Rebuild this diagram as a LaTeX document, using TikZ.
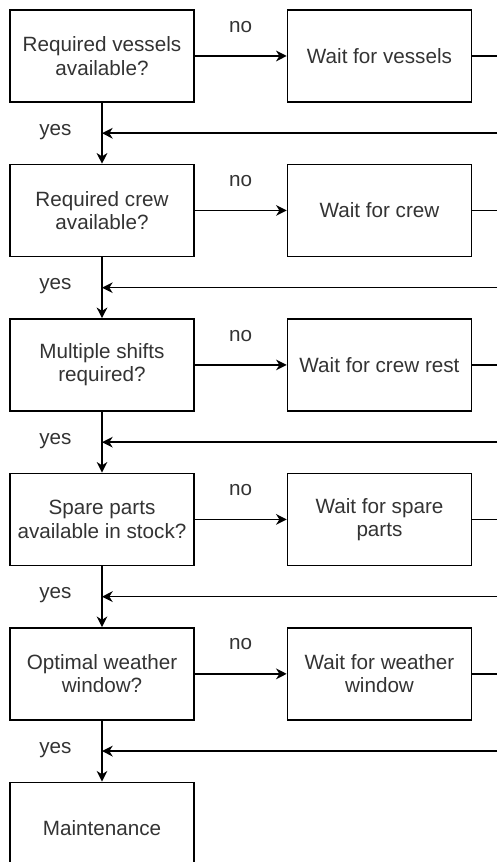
\documentclass[tikz,border=0pt]{standalone}
\usepackage{fontspec}
\setmainfont{Liberation Sans}
\usetikzlibrary{positioning}
\usetikzlibrary{arrows.meta}
\usetikzlibrary{calc}
\tikzset{
	flownode/.style = {
		rectangle,
		align=center,
		inner sep=0pt,
		text centered,
		draw=black,
		line width=1.1pt,
		text=black!80,
		font=\fontsize{15.5}{17.5}\selectfont,
		minimum width=138pt,
		minimum height=69pt
	},
	node_check/.style = {
		flownode
	},
	node_wait/.style = {
		flownode
	},
	label_no/.style = {
		midway,
		text=black!80,
		font=\fontsize{15.5}{17.5}\selectfont,
		yshift=22pt
	},
	label_yes/.style = {
		midway,
		text=black!80,
		font=\fontsize{15.5}{17.5}\selectfont,
		xshift=-35pt,
		yshift=1pt
	},
}

\begin{document}
\begin{tikzpicture}[->,>={Stealth[length=8pt,width=8pt,inset=2.5pt]},line width=1.1pt, node distance=45.75pt and 69pt]
\useasboundingbox (0,0) rectangle (372.75pt,-646.5pt);
\coordinate (edge) at (372.75pt,0);

% questions on the left
\node [node_check] (vessels) at (76.5pt,-42pt) {Required vessels\\available?};
\node [node_check, below=of vessels] (crew) {Required crew\\available?};
\node [node_check, below=of crew] (shifts) {Multiple shifts\\required?};
\node [node_check, below=of shifts] (parts) {Spare parts\\available in stock?};
\node [node_check, below=of parts] (weather) {Optimal weather\\window?};
\node [node_check, below=of weather] (maint) {Maintenance};

% waiting steps on the right
\node [node_wait, right=of vessels] (w_vessels) {Wait for vessels};
\node [node_wait, right=of crew] (w_crew) {Wait for crew};
\node [node_wait, right=of shifts] (w_shifts) {Wait for crew rest};
\node [node_wait, right=of parts] (w_parts) {Wait for spare\\parts};
\node [node_wait, right=of weather] (w_weather) {Wait for weather\\window};

\foreach \q/\w/\n in {vessels/w_vessels/crew, crew/w_crew/shifts, shifts/w_shifts/parts, parts/w_parts/weather, weather/w_weather/maint} {
	\draw (\q) -- node[label_no] {no} (\w);
	\draw[-] (\w) -- (\w -| edge);
	\draw (\q) -- node[label_yes] {yes} (\n);
	\coordinate (back_\q) at ($(\q.south)!0.5!(\n.north)$);
	\draw (back_\q -| edge) -- (back_\q);
}
\end{tikzpicture}
\end{document}
